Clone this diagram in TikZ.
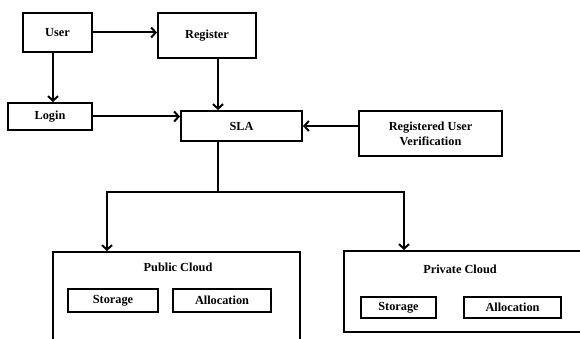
\documentclass[tikz,border=0pt]{standalone}
\usepackage{fontspec}
\setmainfont{Liberation Serif}
\usetikzlibrary{arrows.meta}
\tikzset{
every picture/.style={
line width=2pt
}}

\begin{document}
\begin{tikzpicture}[x=1pt, y=-1pt, font=\bfseries\fontsize{12.3}{15}\selectfont,
block/.style = {rectangle, draw=black, inner sep=0pt, align=center},
flow/.style = {-{Straight Barb[length=4.5pt,width=10pt]}}]
\useasboundingbox (0,0) rectangle (580,339);
\clip (0,0) rectangle (580,339);
\node[block, minimum width=69, minimum height=39] at (57.5,32.5) (user) {User};
\node[block, minimum width=98, minimum height=45] at (207,35.5) (reg) {Register};
\node[block, minimum width=84, minimum height=27] at (50,116.5) (login) {Login};
\node[block, minimum width=121, minimum height=30] at (241.5,126) (sla) {SLA};
\node[block, minimum width=143, minimum height=45] at (430.5,133.5) (ruv) {Registered User\\Verification};

\node[block, minimum width=247, minimum height=118] at (176.5,311) (pub) {};
\node at (178,267) (pubtitle) {Public Cloud};
\node[block, minimum width=90, minimum height=23] at (113,300.5) (pubstore) {Storage};
\node[block, minimum width=98, minimum height=23] at (222,300.5) (puballoc) {Allocation};

\node[block, minimum width=266, minimum height=81] at (477,291.5) (priv) {};
\node at (460,269) (privtitle) {Private Cloud};
\node[block, minimum width=75, minimum height=21] at (398.5,307.5) (privstore) {Storage};
\node[block, minimum width=97, minimum height=21] at (512.5,307.5) (privalloc) {Allocation};

\coordinate (hub) at (218,192);
\coordinate (pubturn) at (107,192);
\coordinate (privturn) at (404,192);
\coordinate (userdown) at (53,0);

\draw[flow] (user.east) -- (user.east -| reg.west);
\draw[flow] (user.south -| userdown) -- (login.north -| userdown);
\draw[flow] (reg.south -| hub) -- (sla.north -| hub);
\draw[flow] (login.east) -- (login.east -| sla.west);
\draw[flow] (ruv.west |- sla.east) -- (sla.east);
\draw (sla.south -| hub) -- (hub);
\draw[flow] (pubturn) -- (privturn) -- (privturn |- priv.north);
\draw[flow] (hub) -- (pubturn) -- (pubturn |- pub.north);
\end{tikzpicture}
\end{document}
